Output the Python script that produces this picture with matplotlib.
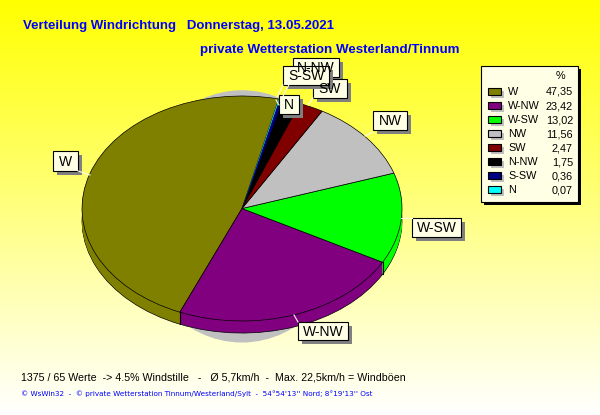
import numpy as np
import matplotlib
matplotlib.use("Agg")
import matplotlib.pyplot as plt
from matplotlib.patches import Ellipse, Rectangle

plt.rcParams['font.family'] = ['Liberation Sans', 'DejaVu Sans']

# Wind direction shares in percent
directions = ["W", "W-NW", "W-SW", "NW", "SW", "N-NW", "S-SW", "N"]
shares = [47.35, 23.42, 13.02, 11.56, 2.47, 1.75, 0.36, 0.07]
share_labels = ["47,35", "23,42", "13,02", "11,56", "2,47", "1,75", "0,36", "0,07"]
colors = ["#808000", "#800080", "#00ff00", "#c0c0c0", "#800000", "#000000", "#000080", "#00ffff"]

title_left = "Verteilung Windrichtung   Donnerstag, 13.05.2021"
title_right = "private Wetterstation Westerland/Tinnum"
info_line = "1375 / 65 Werte  -> 4.5% Windstille   -   Ø 5,7km/h  -  Max. 22,5km/h = Windböen"
credit_line = "© WsWin32  -  © private Wetterstation Tinnum/Westerland/Sylt  -  54°54'13'' Nord; 8°19'13'' Ost"

W, H = 600, 415
start_angle = 76.7
depth = 0.107

fig = plt.figure(figsize=(W / 100, H / 100), dpi=100)

# gradient background
bg = fig.add_axes([0, 0, 1, 1])
grad = np.linspace(0, 1, 256).reshape(-1, 1)
bg.imshow(grad, aspect="auto", cmap=matplotlib.colors.LinearSegmentedColormap.from_list("bg", ["#ffff00", "#ffffff"]))
bg.axis("off")

# pie axes, x 82..402, y 96..321 in pixels
pie_ax = fig.add_axes([82 / W, 1 - 321 / H, 320 / W, 225 / H])
pie_ax.patch.set_alpha(0)
pie_ax.add_patch(Ellipse((0.0, -0.07), 1.36, 2.23, color="#c0c0c0", zorder=0, clip_on=False))

for d in np.linspace(depth, 0, 13):
    wedges, _ = pie_ax.pie(shares, colors=colors, startangle=start_angle, counterclock=True,
                           center=(0, -d), radius=1, frame=True,
                           wedgeprops=dict(linewidth=0))
    for w in wedges:
        w.set_clip_on(False)
    if d == depth or d == 0:
        # the narrow slices would vanish under their own outline
        for w in wedges[:5]:
            w.set_edgecolor("black")
            w.set_linewidth(0.5)

# vertical edges where slices meet on the visible side
angles = np.radians(start_angle + np.cumsum(shares) * 3.6)
for a in angles:
    if np.sin(a) < 0:
        pie_ax.plot([np.cos(a)] * 2, [np.sin(a), np.sin(a) - depth], color="black", lw=0.8,
                    clip_on=False, zorder=5)

pie_ax.set_aspect("auto")
pie_ax.set_xlim(-1, 1)
pie_ax.set_ylim(-1, 1)
pie_ax.axis("off")

# overlay in pixel coordinates for labels and legend
ov = fig.add_axes([0, 0, 1, 1])
ov.set_xlim(0, W)
ov.set_ylim(H, 0)
ov.axis("off")
ov.patch.set_alpha(0)

ov.text(23, 25.5, title_left, color="#0000ff", fontsize=9.55, fontweight="bold", va="center")
ov.text(200, 49.5, title_right, color="#0000ff", fontsize=9.65, fontweight="bold", va="center")
ov.text(21, 377, info_line, color="black", fontsize=7.65, va="center")
ov.text(21, 394, credit_line, color="#0000ff", fontsize=5.2,
        family=["DejaVu Sans"], va="center")

# callout boxes: x0, y0, x1, y1, leader start and end
callouts = {
    "W": (53, 151, 78, 171, (78, 171), (90, 175)),
    "NW": (373, 111, 407, 130, (373, 132), (365, 136)),
    "W-SW": (412, 218, 461, 237, (412, 218), (401, 218)),
    "W-NW": (298, 322, 348, 340, (298, 322), (294, 315)),
    "N-NW": (293, 58, 339, 77, (293, 77), (281, 100)),
    "SW": (313, 79, 347, 98, (313, 98), (308, 105)),
    "S-SW": (283, 66, 329, 85, (283, 85), (277, 97)),
    "N": (279, 95, 299, 114, (279, 105), (276, 100)),
}
for name in ["W", "NW", "W-SW", "W-NW", "N-NW", "SW", "S-SW", "N"]:
    x0, y0, x1, y1, p0, p1 = callouts[name]
    ov.plot([p0[0], p1[0]], [p0[1], p1[1]], color="#ffffe8", lw=0.8)
    ov.add_patch(Rectangle((x0 + 4, y0 + 4), x1 - x0, y1 - y0, color="#808080", lw=0))
    ov.add_patch(Rectangle((x0, y0), x1 - x0, y1 - y0, facecolor="#ffffe6", edgecolor="black", lw=0.8))
    ov.text((x0 + x1) / 2, (y0 + y1) / 2 + 0.5, name, ha="center", va="center", fontsize=10)

# legend
ov.add_patch(Rectangle((484, 69), 97, 136, color="black", lw=0))
ov.add_patch(Rectangle((481, 66), 97, 136, facecolor="#ffffe6", edgecolor="black", lw=0.8))
ov.text(560, 76, "%", ha="center", va="center", fontsize=7.8)
for i, (name, val, col) in enumerate(zip(directions, share_labels, colors)):
    y = 92 + i * 14
    ov.add_patch(Rectangle((491, y - 1), 13, 7, color="#c0c0c0", lw=0))
    ov.add_patch(Rectangle((488, y - 4), 13, 7, facecolor=col, edgecolor="black", lw=0.8))
    ov.text(508, y, name, va="center", fontsize=7.8)
    ov.text(573, y, val, va="center", ha="right", fontsize=7.8)

fig.savefig("out.png", dpi=100)
